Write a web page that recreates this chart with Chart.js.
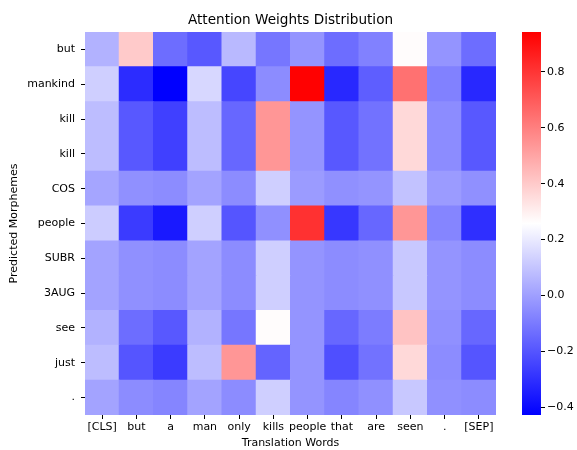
<!DOCTYPE html>
<html>
<head>
<meta charset="utf-8">
<script src="https://cdn.jsdelivr.net/npm/chart.js@4/dist/chart.umd.min.js"></script>
<style>
  body { margin: 0; background: #fff; }
  #wrap { position: relative; width: 577px; height: 450px; }
  #heat { position: absolute; left: 0; top: 0; }
  #cbar { position: absolute; left: 500px; top: 0; }
</style>
</head>
<body>
<div id="wrap">
  <canvas id="heat" width="577" height="450"></canvas>
  <canvas id="cbar" width="77" height="450"></canvas>
</div>
<script>
// categories
var colLabels = ['[CLS]', 'but', 'a', 'man', 'only', 'kills', 'people', 'that', 'are', 'seen', '.', '[SEP]'];
var rowLabels = ['but', 'mankind', 'kill', 'kill', 'COS', 'people', 'SUBR', '3AUG', 'see', 'just', '.'];
var chartTitle = 'Attention Weights Distribution';

// attention weights, one array per row (top to bottom)
var rowBut     = [0.05, 0.40, -0.135, -0.19, 0.07, -0.11, -0.03, -0.135, -0.08, 0.265, -0.03, -0.135];
var rowMankind = [0.13, -0.31, -0.43, 0.15, -0.24, -0.05, 0.94, -0.32, -0.175, 0.64, -0.08, -0.32];
var rowKill1   = [0.08, -0.19, -0.255, 0.08, -0.15, 0.54, -0.03, -0.19, -0.12, 0.36, -0.05, -0.19];
var rowKill2   = [0.08, -0.19, -0.255, 0.08, -0.15, 0.54, -0.03, -0.19, -0.12, 0.36, -0.05, -0.19];
var rowCOS     = [0.015, -0.04, -0.05, 0.01, -0.05, 0.13, -0.01, -0.04, -0.03, 0.095, -0.01, -0.04];
var rowPeople  = [0.12, -0.27, -0.36, 0.13, -0.20, -0.04, 0.81, -0.28, -0.15, 0.54, -0.07, -0.30];
var rowSUBR    = [0.01, -0.04, -0.05, 0.01, -0.05, 0.13, -0.03, -0.05, -0.04, 0.11, -0.03, -0.05];
var row3AUG    = [0.01, -0.04, -0.05, 0.01, -0.05, 0.13, -0.03, -0.05, -0.04, 0.11, -0.03, -0.05];
var rowSee     = [0.05, -0.135, -0.19, 0.05, -0.11, 0.265, -0.03, -0.15, -0.095, 0.42, -0.04, -0.15];
var rowJust    = [0.08, -0.20, -0.27, 0.08, 0.54, -0.16, -0.03, -0.215, -0.12, 0.36, -0.05, -0.20];
var rowDot     = [0.01, -0.05, -0.07, 0.01, -0.05, 0.13, -0.03, -0.07, -0.04, 0.11, -0.04, -0.05];

var rows = [rowBut, rowMankind, rowKill1, rowKill2, rowCOS, rowPeople, rowSUBR, row3AUG, rowSee, rowJust, rowDot];

// colour bar limits and ticks
var vmin = -0.4275;
var vmax = 0.943;
var cbarTicks = [-0.4, -0.2, 0.0, 0.2, 0.4, 0.6, 0.8];

var FONT = "'DejaVu Sans', sans-serif";
Chart.defaults.font.family = FONT;
Chart.defaults.color = '#000';

// matplotlib "bwr": blue -> white -> red
function bwr(v) {
  var t = (v - vmin) / (vmax - vmin);
  t = Math.max(0, Math.min(1, t));
  var r, g, b;
  if (t < 0.5) {
    r = g = Math.round(255 * t * 2);
    b = 255;
  } else {
    r = 255;
    g = b = Math.round(255 * (1 - t) * 2);
  }
  return 'rgb(' + r + ',' + g + ',' + b + ')';
}

// one stacked dataset per row, bottom row first
var datasets = [];
for (var i = rows.length - 1; i >= 0; i--) {
  datasets.push({
    label: rowLabels[i],
    data: colLabels.map(function () { return 1; }),
    backgroundColor: rows[i].map(bwr),
    borderWidth: 0,
    inflateAmount: 0.5,
    barPercentage: 1,
    categoryPercentage: 1
  });
}

var nRows = rowLabels.length;

// title centred over the plot area (like matplotlib), not the whole canvas
var areaTitle = {
  id: 'areaTitle',
  afterDraw: function (chart) {
    var a = chart.chartArea;
    var c = chart.ctx;
    c.save();
    c.font = '13.6px ' + FONT;
    c.fillStyle = '#000';
    c.textAlign = 'center';
    c.textBaseline = 'middle';
    c.fillText(chartTitle, (a.left + a.right) / 2, 20.5);
    c.restore();
  }
};

new Chart(document.getElementById('heat'), {
  type: 'bar',
  data: { labels: colLabels, datasets: datasets },
  plugins: [areaTitle],
  options: {
    responsive: false,
    animation: false,
    events: [],
    layout: { padding: { left: 0, right: 81, top: 32, bottom: 0 } },
    plugins: {
      legend: { display: false },
      tooltip: { enabled: false },
      title: { display: false }
    },
    scales: {
      x: {
        stacked: true,
        grid: { display: true, drawOnChartArea: false, drawTicks: true, tickLength: 4, tickColor: '#000', offset: false },
        border: { display: false },
        ticks: { font: { size: 11 }, padding: 2, maxRotation: 0, autoSkip: false },
        title: { display: true, text: 'Translation Words', font: { size: 11 }, padding: { top: 0, bottom: 0 } },
        afterFit: function (scale) { scale.height = 35; }
      },
      y: {
        stacked: true,
        min: 0,
        max: nRows,
        grid: { display: true, drawOnChartArea: false, drawTicks: true, tickLength: 4, tickColor: '#000' },
        border: { display: false },
        afterBuildTicks: function (scale) {
          scale.ticks = rowLabels.map(function (_, k) { return { value: k + 0.5 }; });
        },
        ticks: {
          font: { size: 11 },
          padding: 6,
          autoSkip: false,
          callback: function (value) {
            return rowLabels[nRows - 1 - Math.floor(value)];
          }
        },
        title: { display: true, text: 'Predicted Morphemes', font: { size: 11 }, padding: { top: 8, bottom: 0 } },
        afterFit: function (scale) { scale.width = 85; }
      }
    }
  }
});

// colour bar: one floating bar filled with the bwr gradient
new Chart(document.getElementById('cbar'), {
  type: 'bar',
  data: {
    labels: [''],
    datasets: [{
      data: [[vmin, vmax]],
      borderWidth: 0,
      barPercentage: 1,
      categoryPercentage: 1,
      backgroundColor: function (ctx) {
        var area = ctx.chart.chartArea;
        if (!area) return 'rgba(0,0,0,0)';
        var grad = ctx.chart.ctx.createLinearGradient(0, area.bottom, 0, area.top);
        grad.addColorStop(0, 'rgb(0,0,255)');
        grad.addColorStop(0.5, 'rgb(255,255,255)');
        grad.addColorStop(1, 'rgb(255,0,0)');
        return grad;
      }
    }]
  },
  options: {
    responsive: false,
    animation: false,
    events: [],
    layout: { padding: { left: 22, right: 0, top: 32, bottom: 35 } },
    plugins: { legend: { display: false }, tooltip: { enabled: false } },
    scales: {
      x: { display: false },
      y: {
        position: 'right',
        min: vmin,
        max: vmax,
        grid: { display: true, drawOnChartArea: false, drawTicks: true, tickLength: 4, tickColor: '#000' },
        border: { display: false },
        afterBuildTicks: function (scale) {
          scale.ticks = cbarTicks.map(function (v) { return { value: v }; });
        },
        ticks: {
          font: { size: 11 },
          padding: 2,
          callback: function (value) {
            return value.toFixed(1).replace('-', '\u2212');
          }
        },
        afterFit: function (scale) { scale.width = 36; }
      }
    }
  }
});
</script>
</body>
</html>
